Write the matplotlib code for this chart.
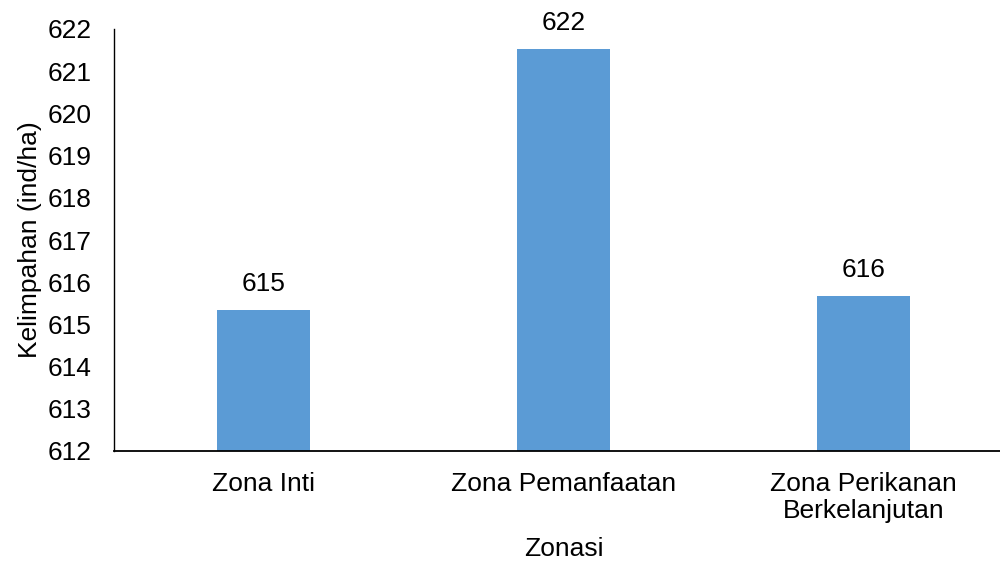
import matplotlib
matplotlib.use("Agg")
import matplotlib.pyplot as plt

# 数据
categories = ["Zona Inti", "Zona Pemanfaatan", "Zona Perikanan\nBerkelanjutan"]
values = [615.34, 621.52, 615.67]
labels = ["615", "622", "616"]

plt.rcParams["font.family"] = ["Liberation Sans", "DejaVu Sans"]
fs = 19

fig = plt.figure(figsize=(10, 5.63), dpi=100)
# 右边界超出画布，和原图一样被裁掉
ax = fig.add_axes([0.1135, 1 - 451 / 563, 0.90, (451 - 29) / 563])

x = range(len(categories))
bars = ax.bar(x, values, width=0.313, color="#5B9BD5", zorder=2)

for bar, lab in zip(bars, labels):
    ax.annotate(lab, (bar.get_x() + bar.get_width() / 2, bar.get_height()),
                xytext=(0, 10), textcoords="offset points",
                ha="center", va="bottom", fontsize=fs)

ax.set_xlim(-0.5, 2.5)
ax.set_ylim(612, 622)
ax.set_yticks(range(612, 623))
ax.set_xticks(list(x))
ax.set_xticklabels(categories, fontsize=fs, linespacing=1.15)
ax.tick_params(axis="both", length=0, labelsize=fs)
ax.tick_params(axis="x", pad=15)
ax.tick_params(axis="y", pad=16)

for side in ["top", "right"]:
    ax.spines[side].set_visible(False)
ax.spines["left"].set_linewidth(1.0)
ax.spines["bottom"].set_linewidth(1.3)

ax.set_xlabel("Zonasi", fontsize=fs, labelpad=10)
ax.set_ylabel("Kelimpahan (ind/ha)", fontsize=fs, labelpad=4)

fig.savefig("out.png", dpi=100)
